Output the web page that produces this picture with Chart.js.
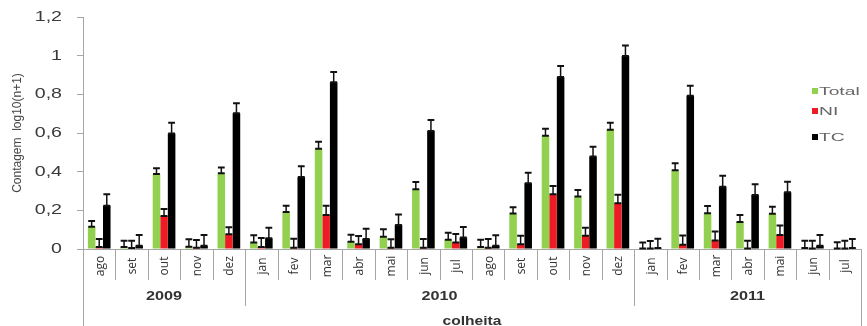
<!DOCTYPE html>
<html lang="pt">
<head>
<meta charset="UTF-8">
<title>Contagem por colheita</title>
<script src="https://cdn.jsdelivr.net/npm/chart.js"></script>
<style>
    body { margin: 0; background: #fff; }
    canvas { display: block; }
</style>
</head>
<body>
<canvas id="chart" width="867" height="326"></canvas>
<script>
// months of each harvest, grouped by year
const months = ['ago', 'set', 'out', 'nov', 'dez',
                'jan', 'fev', 'mar', 'abr', 'mai', 'jun', 'jul', 'ago', 'set', 'out', 'nov', 'dez',
                'jan', 'fev', 'mar', 'abr', 'mai', 'jun', 'jul'];
const years = [
    { label: '2009', from: 0, to: 4 },
    { label: '2010', from: 5, to: 16 },
    { label: '2011', from: 17, to: 23 }
];

const total = [0.115, 0.010, 0.388, 0.012, 0.392,
               0.034, 0.191, 0.519, 0.038, 0.064, 0.309, 0.048, 0.010, 0.184, 0.586, 0.272, 0.617,
               0.003, 0.407, 0.185, 0.140, 0.182, 0.005, 0.003];
const totalErr = [0.030, 0.033, 0.030, 0.038, 0.030,
                  0.037, 0.033, 0.036, 0.036, 0.038, 0.038, 0.036, 0.038, 0.032, 0.036, 0.033, 0.036,
                  0.030, 0.036, 0.037, 0.036, 0.036, 0.038, 0.032];

const ni = [0.010, 0.005, 0.171, 0.007, 0.076,
            0.010, 0.007, 0.176, 0.024, 0.007, 0.007, 0.034, 0.007, 0.024, 0.283, 0.069, 0.236,
            0.003, 0.022, 0.044, 0.003, 0.073, 0.003, 0.003];
const niErr = [0.042, 0.038, 0.036, 0.040, 0.036,
               0.047, 0.046, 0.048, 0.043, 0.043, 0.045, 0.044, 0.045, 0.045, 0.043, 0.041, 0.045,
               0.038, 0.048, 0.046, 0.040, 0.048, 0.040, 0.040];

const tc = [0.224, 0.017, 0.598, 0.017, 0.702,
            0.055, 0.372, 0.862, 0.052, 0.124, 0.610, 0.059, 0.017, 0.340, 0.890, 0.478, 0.998,
            0.005, 0.793, 0.322, 0.279, 0.293, 0.017, 0.005];
const tcErr = [0.059, 0.055, 0.055, 0.055, 0.052,
               0.055, 0.056, 0.054, 0.053, 0.055, 0.057, 0.055, 0.054, 0.055, 0.057, 0.051, 0.054,
               0.048, 0.052, 0.057, 0.056, 0.055, 0.055, 0.047];

const yTicks = [0, 0.2, 0.4, 0.6, 0.8, 1, 1.2];

const seriesNames = ['Total', 'NI', 'TC'];
const seriesColors = ['#92d050', '#ed1c24', '#000000'];
const seriesErrors = [totalErr, niErr, tcErr];

const textColor = '#3a3a3a';
const lineColor = '#a6a6a6';

function fmt(v) {
    return String(+v.toFixed(1)).replace('.', ',');
}

// text drawn wider than the font's natural width
function wideText(ctx, txt, x, y, stretch, align) {
    ctx.save();
    ctx.translate(x, y);
    ctx.scale(stretch, 1);
    ctx.textAlign = align;
    ctx.fillText(txt, 0, 0);
    ctx.restore();
}

// upper error bars with a cap at both ends
const errorBars = {
    id: 'errorBars',
    afterDatasetsDraw(chart) {
        const ctx = chart.ctx;
        const y = chart.scales.y;
        ctx.save();
        ctx.strokeStyle = '#111';
        chart.data.datasets.forEach((ds, di) => {
            const meta = chart.getDatasetMeta(di);
            meta.data.forEach((bar, i) => {
                const top = y.getPixelForValue(ds.data[i] + seriesErrors[di][i]);
                const base = bar.y;
                const half = bar.width * 0.45;
                ctx.lineWidth = 1.5;
                ctx.beginPath();
                ctx.moveTo(bar.x, base);
                ctx.lineTo(bar.x, top);
                ctx.stroke();
                ctx.lineWidth = 2;
                ctx.beginPath();
                ctx.moveTo(bar.x - half, top);
                ctx.lineTo(bar.x + half, top);
                ctx.moveTo(bar.x - half, base);
                ctx.lineTo(bar.x + half, base);
                ctx.stroke();
            });
        });
        ctx.restore();
    }
};

// axis labels, multi-level category axis and legend
const decorations = {
    id: 'decorations',
    afterDraw(chart) {
        const ctx = chart.ctx;
        const x = chart.scales.x;
        const y = chart.scales.y;
        const area = chart.chartArea;
        const axisY = area.bottom;

        ctx.save();
        ctx.fillStyle = textColor;
        ctx.textBaseline = 'middle';

        // y tick labels
        ctx.font = '14px "Liberation Sans", Arial, sans-serif';
        y.ticks.forEach(t => {
            wideText(ctx, fmt(t.value), 62, y.getPixelForValue(t.value), 1.4, 'right');
        });

        // y title
        ctx.save();
        ctx.translate(18, 133);
        ctx.rotate(-Math.PI / 2);
        ctx.font = '12px "Liberation Sans", Arial, sans-serif';
        ctx.textAlign = 'center';
        ctx.fillStyle = '#444';
        ctx.fillText('Contagem  log10(n+1)', 0, 0);
        ctx.restore();

        // category boundaries
        const bounds = [];
        for (let i = 0; i <= months.length; i++) {
            if (i === 0) bounds.push(area.left);
            else if (i === months.length) bounds.push(area.right);
            else bounds.push((x.getPixelForValue(i - 1) + x.getPixelForValue(i)) / 2);
        }
        const yearStarts = years.map(yr => yr.from);
        ctx.strokeStyle = lineColor;
        ctx.lineWidth = 1;
        bounds.forEach((bx, i) => {
            let end = 280;
            if (i === 0 || i === months.length) end = 326;
            else if (yearStarts.includes(i)) end = 306;
            const px = Math.round(bx) + 0.5;
            ctx.beginPath();
            ctx.moveTo(px, axisY);
            ctx.lineTo(px, end);
            ctx.stroke();
        });

        // month labels
        ctx.font = '12px "Open Sans", "Liberation Sans", sans-serif';
        ctx.fillStyle = '#333';
        months.forEach((m, i) => {
            ctx.save();
            ctx.translate(x.getPixelForValue(i) + 1, 266);
            ctx.rotate(-Math.PI / 2);
            ctx.textAlign = 'center';
            ctx.fillText(m, 0, 0);
            ctx.restore();
        });

        // year labels
        ctx.font = 'bold 12px "Liberation Sans", Arial, sans-serif';
        years.forEach(yr => {
            const cx = (bounds[yr.from] + bounds[yr.to + 1]) / 2;
            wideText(ctx, yr.label, cx, 297, 1.35, 'center');
        });

        // x title
        wideText(ctx, 'colheita', (area.left + area.right) / 2, 322, 1.3, 'center');

        // legend
        const legendY = [91, 111, 137];
        ctx.font = '11px "Liberation Sans", Arial, sans-serif';
        seriesNames.forEach((name, i) => {
            ctx.fillStyle = seriesColors[i];
            ctx.fillRect(812, legendY[i] - 3, 6, 6);
            ctx.fillStyle = '#666';
            wideText(ctx, name, 819, legendY[i] + 0.5, 1.75, 'left');
        });

        ctx.restore();
    }
};

new Chart(document.getElementById('chart'), {
    type: 'bar',
    data: {
        labels: months.map((m, i) => m + i),
        datasets: [
            { label: seriesNames[0], data: total, backgroundColor: seriesColors[0] },
            { label: seriesNames[1], data: ni, backgroundColor: seriesColors[1] },
            { label: seriesNames[2], data: tc, backgroundColor: seriesColors[2] }
        ]
    },
    options: {
        responsive: false,
        animation: false,
        devicePixelRatio: 1,
        layout: { padding: { top: 17, right: 6, left: 0, bottom: 0 } },
        datasets: {
            bar: { categoryPercentage: 0.7, barPercentage: 1.0 }
        },
        plugins: {
            legend: { display: false },
            tooltip: { enabled: false }
        },
        scales: {
            x: {
                grid: { display: false },
                ticks: { display: false },
                border: { display: true, color: lineColor },
                afterFit: s => { s.height = 77; }
            },
            y: {
                min: 0,
                max: 1.2,
                afterBuildTicks: s => { s.ticks = yTicks.map(v => ({ value: v })); },
                ticks: { display: false },
                grid: { drawOnChartArea: false, drawTicks: true, tickLength: 6, color: lineColor },
                border: { display: true, color: lineColor },
                afterFit: s => { s.width = 83; }
            }
        }
    },
    plugins: [errorBars, decorations]
});
</script>
</body>
</html>
